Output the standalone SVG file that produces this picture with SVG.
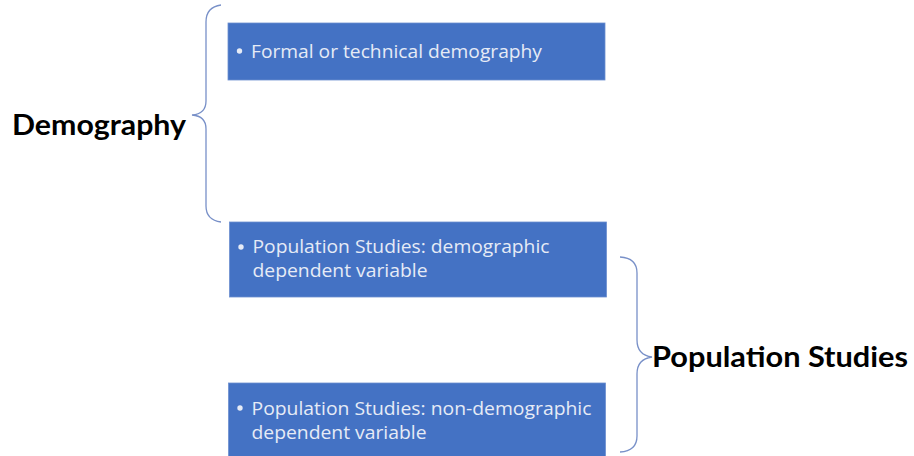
<svg xmlns="http://www.w3.org/2000/svg" width="914" height="456" viewBox="0 0 914 456">
  <style>
    .box { fill: #4472C4; stroke: #6d8fd0; stroke-width: 0.8; }
    .item { font-family: "Open Sans", "Noto Sans", sans-serif; font-size: 19px; fill: #e6ebf6; }
    .bullet { fill: #e6ebf6; }
    .title { font-family: Lato, "Liberation Sans", Arial, sans-serif; font-weight: bold; font-size: 29px; fill: #000; }
    .brace { fill: none; stroke: #7890c8; stroke-width: 1.3; }
  </style>

  <!-- braces grouping the items -->
  <g id="connectors">
    <path class="brace" d="M221,5 Q206,7 206,22 L206,101 Q206,114 192,115 Q206,116 206,129 L206,206 Q206,220 221,222"/>
    <path class="brace" d="M620,257 Q637,258 637,273 L637,340 Q637,355 652,357 Q637,359 637,374 L637,436 Q637,451 620,452"/>
  </g>

  <g id="label-demography">
    <text class="title" x="12" y="135" textLength="174" lengthAdjust="spacingAndGlyphs">Demography</text>
  </g>

  <g id="label-population-studies">
    <text class="title" x="652" y="367" textLength="256" lengthAdjust="spacingAndGlyphs">Population Studies</text>
  </g>

  <g id="item-formal">
    <rect class="box" x="228" y="23" width="377" height="57"/>
    <circle class="bullet" cx="239.5" cy="51" r="2.7"/>
    <text class="item" x="251" y="58" textLength="291" lengthAdjust="spacingAndGlyphs">Formal or technical demography</text>
  </g>

  <g id="item-demographic">
    <rect class="box" x="229.5" y="222" width="377" height="75"/>
    <circle class="bullet" cx="241" cy="247" r="2.7"/>
    <text class="item" x="252.5" y="253" textLength="297" lengthAdjust="spacingAndGlyphs">Population Studies: demographic</text>
    <text class="item" x="252.5" y="277" textLength="175" lengthAdjust="spacingAndGlyphs">dependent variable</text>
  </g>

  <g id="item-non-demographic">
    <rect class="box" x="228.5" y="383" width="377" height="80"/>
    <circle class="bullet" cx="240" cy="408" r="2.7"/>
    <text class="item" x="251.5" y="415" textLength="340" lengthAdjust="spacingAndGlyphs">Population Studies: non-demographic</text>
    <text class="item" x="251.5" y="438.5" textLength="175" lengthAdjust="spacingAndGlyphs">dependent variable</text>
  </g>
</svg>
